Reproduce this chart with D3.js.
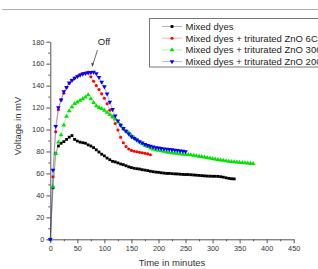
<!DOCTYPE html>
<html>
<head>
<meta charset="utf-8">
<script src="https://cdn.jsdelivr.net/npm/d3@7"></script>
<style>
  body { margin: 0; background: #fff; }
  text { font-family: "Liberation Sans", Arial, sans-serif; }
</style>
</head>
<body>
<div id="canvas"></div>
<script>
// minutes shared by all series, value i belongs to minutes[i]
var minutes = [0,5,10,15,20,25,30,35,40,45,50,55,60,65,70,75,80,85,90,95,
  100,105,110,115,120,125,130,135,140,145,150,155,160,165,170,175,180,185,190,195,
  200,205,210,215,220,225,230,235,240,245,250,255,260,265,270,275,280,285,290,295,
  300,305,310,315,320,325,330,335,340,345,350,355,360,365,370,375];

var mixedDyes = [0,47,78,85,87.5,89,91,93,94.5,91,89.5,88.5,88,87.5,86,85,83.5,81.5,79.5,77.5,
  76,74,72.5,71,70.5,69.6,68.6,68,67,66,65.3,64.7,64.3,64,63.4,63,62.6,62,61.6,61.2,
  61,60.6,60.3,60,60,59.8,59.6,59.5,59.3,59.1,59,59,58.8,58.6,58.4,58.2,58,57.8,57.6,57.5,
  57.4,57.4,57.3,57,56.6,56,55.5,55.2,55];

var zno6c = [0,57,98,118,127,133,138.5,142,145,147,148.8,150,151,151.6,152.3,148,144,140,136.5,132.5,
  128.5,123.5,117.5,111.5,105.5,99.5,93,88,84.5,82.3,81,80.2,79.7,79.2,78.8,78.3,77.8,77];

var zno300c = [0,48,78,88.5,95,104,112,117,120.5,123.5,125,126.5,128,129.5,131.5,128,124.5,121.5,120,119,
  117.5,115.5,113.5,111.5,109.5,107,104,100.5,98.5,97,94.5,92.5,90.5,88.5,86.8,85.5,84.3,83,82.2,81.5,
  81,80.5,80,79.5,79.1,78.8,78.5,78.2,77.9,77.6,77.3,77,76.8,76.4,76,75.6,75.2,74.8,74.4,73.9,
  73.4,73,72.6,72.2,71.8,71.4,71,70.7,70.4,70.2,70,69.8,69.6,69.3,69,68.8];

var zno200c = [0,63,103,120,127,134.5,138.5,142.5,144.8,146.8,148.3,149.6,150.6,151.2,151.7,152,152.3,151,147.5,143.3,
  139,132.5,125,118.3,112.5,108,104,101,98.5,96,93.5,92,90.5,89,87.8,86.6,85.6,84.8,84.2,83.6,
  83.2,82.8,82.5,82.2,81.9,81.6,81.3,81,80.6,80.3,80];

var seriesNames = ["Mixed dyes", "Mixed dyes + triturated ZnO 6C",
  "Mixed dyes + triturated ZnO 300C", "Mixed dyes + triturated ZnO 200C"];
var seriesValues = [mixedDyes, zno6c, zno300c, zno200c];
var seriesColors = ["#000000", "#ff0000", "#00e000", "#0000ff"];
var seriesSymbols = [d3.symbolSquare, d3.symbolCircle, d3.symbolTriangle, d3.symbolTriangle];
var seriesRotate = [0, 0, 0, 180];
var seriesSizes = [8, 7.5, 9.5, 9.5];

var xTicks = [0,50,100,150,200,250,300,350,400,450];
var yTicks = [0,20,40,60,80,100,120,140,160,180];

var W = 318, H = 269;
svg = d3.select("#canvas").append("svg").attr("width", W).attr("height", H);

var x = d3.scaleLinear().domain([0, 450]).range([50.3, 293.7]);
var y = d3.scaleLinear().domain([0, 180]).range([239.3, 41.7]);

// thin grey rule at the very top
svg.append("line").attr("x1", 2).attr("x2", W).attr("y1", 9.5).attr("y2", 9.5)
  .attr("stroke", "#b0b0b0").attr("stroke-width", 1);

// axes
var axisColor = "#555";
var gx = svg.append("g").attr("transform", "translate(0," + y(0) + ")")
  .call(d3.axisBottom(x).tickValues(xTicks).tickSize(4).tickSizeOuter(0));
var gxm = svg.append("g").attr("transform", "translate(0," + y(0) + ")")
  .call(d3.axisBottom(x).tickValues(d3.range(25, 450, 50)).tickSize(2).tickFormat(""));
var gy = svg.append("g").attr("transform", "translate(" + x(0) + ",0)")
  .call(d3.axisLeft(y).tickValues(yTicks).tickSize(4).tickSizeOuter(0));
var gym = svg.append("g").attr("transform", "translate(" + x(0) + ",0)")
  .call(d3.axisLeft(y).tickValues(d3.range(10, 180, 20)).tickSize(2).tickFormat(""));

[gx, gxm, gy, gym].forEach(function(g) {
  g.select(".domain").attr("stroke", axisColor).attr("stroke-width", 1);
  g.selectAll(".tick line").attr("stroke", axisColor);
  g.selectAll("text").attr("fill", "#333").style("font-size", "7.3px")
    .style("font-family", "'Liberation Sans', Arial, sans-serif");
});
gxm.select(".domain").remove();
gym.select(".domain").remove();
gx.selectAll("text").attr("dy", "0.8em").attr("y", 5.5);
gy.selectAll("text").attr("x", -6);

// axis titles
svg.append("text").attr("x", 172).attr("y", 266).attr("text-anchor", "middle")
  .attr("fill", "#333").style("font-size", "9.5px").text("Time in minutes");
svg.append("text").attr("transform", "translate(21,126) rotate(-90)")
  .attr("text-anchor", "middle").attr("fill", "#333").style("font-size", "9.5px")
  .text("Voltage in mV");

// series
var line = d3.line().x(function(d) { return x(d[0]); }).y(function(d) { return y(d[1]); });

seriesValues.forEach(function(vals, i) {
  var pts = vals.map(function(v, k) { return [minutes[k], v]; });
  var g = svg.append("g");
  g.append("path").datum(pts).attr("d", line).attr("fill", "none")
    .attr("stroke", seriesColors[i]).attr("stroke-opacity", 0.35).attr("stroke-width", 0.9);
  g.selectAll("path.pt").data(pts).enter().append("path").attr("class", "pt")
    .attr("d", d3.symbol().type(seriesSymbols[i]).size(seriesSizes[i]))
    .attr("transform", function(d) {
      return "translate(" + x(d[0]) + "," + y(d[1]) + ") rotate(" + seriesRotate[i] + ")";
    })
    .attr("fill", seriesColors[i]);
});

// "Off" annotation with arrow
svg.append("text").attr("x", 104).attr("y", 45).attr("text-anchor", "middle")
  .attr("fill", "#222").style("font-size", "9.5px").text("Off");
svg.append("line").attr("x1", 97.5).attr("y1", 50).attr("x2", 92.5).attr("y2", 65.5)
  .attr("stroke", "#444").attr("stroke-width", 0.8);
svg.append("path").attr("d", "M92.2,67 L91.2,62.8 L93.9,63.6 Z").attr("fill", "#444");

// legend
var leg = svg.append("g");
leg.append("rect").attr("x", 149.5).attr("y", 18.5).attr("width", 180).attr("height", 48.5)
  .attr("fill", "#fff").attr("stroke", "#777").attr("stroke-width", 1);
seriesNames.forEach(function(name, i) {
  var cy = 26.5 + i * 11.7;
  leg.append("line").attr("x1", 162).attr("x2", 182).attr("y1", cy).attr("y2", cy)
    .attr("stroke", seriesColors[i]).attr("stroke-opacity", 0.35).attr("stroke-width", 0.9);
  leg.append("path")
    .attr("d", d3.symbol().type(seriesSymbols[i]).size(seriesSizes[i]))
    .attr("transform", "translate(172," + cy + ") rotate(" + seriesRotate[i] + ")")
    .attr("fill", seriesColors[i]);
  leg.append("text").attr("x", 185.5).attr("y", cy + 3.4).attr("fill", "#222")
    .style("font-size", "9.5px").text(name);
});
</script>
</body>
</html>
